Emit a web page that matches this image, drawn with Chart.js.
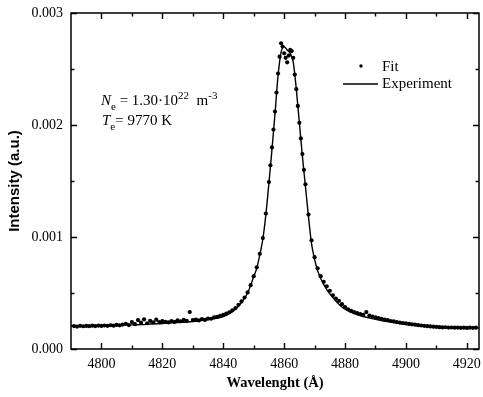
<!DOCTYPE html>
<html>
<head>
<meta charset="utf-8">
<script src="https://cdn.jsdelivr.net/npm/chart.js@4.4.1/dist/chart.umd.min.js"></script>
<style>
  html, body { margin: 0; padding: 0; background: #fff; }
  #wrap { width: 483px; height: 397px; }
</style>
</head>
<body>
<div id="wrap"><canvas id="myChart" width="483" height="397"></canvas></div>
<script>
// intensities are in units of 0.001 a.u.
const fitWavelength = [
  4791, 4792, 4793, 4794, 4795, 4796, 4797, 4798, 4799, 4800,
  4801, 4802, 4803, 4804, 4805, 4806, 4807, 4808, 4809, 4810,
  4811, 4812, 4813, 4814, 4815, 4816, 4817, 4818, 4819, 4820,
  4821, 4822, 4823, 4824, 4825, 4826, 4827, 4828, 4829, 4830,
  4831, 4832, 4833, 4834, 4835, 4836, 4837, 4838, 4839, 4840,
  4841, 4842, 4843, 4844, 4845, 4846, 4847, 4848, 4849, 4850,
  4851, 4852, 4853, 4854, 4855, 4855.5, 4856, 4856.5, 4857, 4857.5,
  4858, 4858.5, 4859, 4859.5, 4860, 4860.5, 4861, 4861.5, 4862, 4862.5,
  4863, 4863.5, 4864, 4864.5, 4865, 4865.5, 4866, 4866.5, 4867, 4868,
  4869, 4870, 4871, 4872, 4873, 4874, 4875, 4876, 4877, 4878,
  4879, 4880, 4881, 4882, 4883, 4884, 4885, 4886, 4887, 4888,
  4889, 4890, 4891, 4892, 4893, 4894, 4895, 4896, 4897, 4898,
  4899, 4900, 4901, 4902, 4903, 4904, 4905, 4906, 4907, 4908,
  4909, 4910, 4911, 4912, 4913, 4914, 4915, 4916, 4917, 4918,
  4919, 4920, 4921, 4922, 4923
];
const fitIntensity = [
  0.205, 0.200, 0.207, 0.203, 0.206, 0.204, 0.208, 0.205, 0.209, 0.206,
  0.210, 0.207, 0.212, 0.208, 0.215, 0.211, 0.218, 0.225, 0.214, 0.240,
  0.222, 0.258, 0.235, 0.265, 0.230, 0.252, 0.238, 0.262, 0.240, 0.248,
  0.243, 0.237, 0.250, 0.242, 0.255, 0.247, 0.260, 0.252, 0.330, 0.258,
  0.262, 0.255, 0.266, 0.260, 0.272, 0.270, 0.282, 0.286, 0.295, 0.305,
  0.315, 0.328, 0.345, 0.365, 0.395, 0.425, 0.460, 0.505, 0.570, 0.650,
  0.730, 0.850, 0.990, 1.210, 1.490, 1.640, 1.800, 1.960, 2.120, 2.290,
  2.460, 2.610, 2.730, 2.700, 2.640, 2.600, 2.560, 2.620, 2.670, 2.660,
  2.600, 2.450, 2.320, 2.170, 2.020, 1.880, 1.740, 1.600, 1.470, 1.200,
  0.970, 0.820, 0.720, 0.650, 0.600, 0.560, 0.520, 0.480, 0.450, 0.430,
  0.400, 0.375, 0.355, 0.340, 0.330, 0.320, 0.312, 0.305, 0.330, 0.298,
  0.290, 0.283, 0.276, 0.270, 0.262, 0.257, 0.250, 0.246, 0.240, 0.236,
  0.232, 0.228, 0.224, 0.220, 0.217, 0.213, 0.210, 0.207, 0.204, 0.202,
  0.199, 0.197, 0.195, 0.193, 0.194, 0.191, 0.192, 0.190, 0.191, 0.189,
  0.190, 0.188, 0.190, 0.189, 0.190
];

const expWavelength = [
  4790, 4795, 4800, 4805, 4810, 4815, 4820, 4825, 4830, 4835,
  4838, 4840, 4842, 4844, 4846, 4848, 4850, 4851, 4852, 4853,
  4854, 4855, 4856, 4857, 4858, 4859, 4860, 4861, 4862, 4863,
  4864, 4865, 4866, 4867, 4868, 4869, 4870, 4871, 4872, 4874,
  4876, 4878, 4880, 4883, 4886, 4890, 4895, 4900, 4905, 4910,
  4915, 4920, 4924
];
const expIntensity = [
  0.205, 0.205, 0.207, 0.210, 0.215, 0.220, 0.228, 0.236, 0.246, 0.262,
  0.276, 0.290, 0.315, 0.355, 0.415, 0.500, 0.645, 0.720, 0.840, 0.980,
  1.200, 1.480, 1.780, 2.100, 2.440, 2.650, 2.700, 2.670, 2.640, 2.560,
  2.320, 2.020, 1.720, 1.450, 1.180, 0.940, 0.800, 0.700, 0.630, 0.530,
  0.460, 0.400, 0.355, 0.315, 0.290, 0.265, 0.240, 0.220, 0.205, 0.195,
  0.191, 0.189, 0.189
];

const xTicks = [4800, 4820, 4840, 4860, 4880, 4900, 4920];
const xMinorTicks = [4810, 4830, 4850, 4870, 4890, 4910];
const yTicks = [0, 1, 2, 3];
const yMinorTicks = [0.5, 1.5, 2.5];
const yTickLabels = ['0.000', '0.001', '0.002', '0.003'];

const serif = '"Liberation Serif", "Times New Roman", serif';

function drawRich(ctx, x, y, parts) {
  parts.forEach(p => {
    ctx.font = p.font;
    ctx.fillText(p.t, x, y + (p.dy || 0));
    x += ctx.measureText(p.t).width;
  });
}

const framePlugin = {
  id: 'frame',
  afterDatasetsDraw(chart) {
    const {ctx, chartArea: a, scales: {x, y}} = chart;
    ctx.save();
    ctx.strokeStyle = '#000';
    ctx.lineWidth = 1.5;
    ctx.strokeRect(a.left, a.top, a.right - a.left, a.bottom - a.top);

    ctx.lineWidth = 1.4;
    ctx.beginPath();
    xTicks.forEach(v => {
      const px = Math.round(x.getPixelForValue(v)) + 0.5;
      ctx.moveTo(px, a.bottom); ctx.lineTo(px, a.bottom - 6);
      ctx.moveTo(px, a.top); ctx.lineTo(px, a.top + 6);
    });
    xMinorTicks.forEach(v => {
      const px = Math.round(x.getPixelForValue(v)) + 0.5;
      ctx.moveTo(px, a.bottom); ctx.lineTo(px, a.bottom - 3.5);
      ctx.moveTo(px, a.top); ctx.lineTo(px, a.top + 3.5);
    });
    yTicks.forEach(v => {
      const py = Math.round(y.getPixelForValue(v)) + 0.5;
      ctx.moveTo(a.left, py); ctx.lineTo(a.left + 6, py);
      ctx.moveTo(a.right, py); ctx.lineTo(a.right - 6, py);
    });
    yMinorTicks.forEach(v => {
      const py = Math.round(y.getPixelForValue(v)) + 0.5;
      ctx.moveTo(a.left, py); ctx.lineTo(a.left + 3.5, py);
      ctx.moveTo(a.right, py); ctx.lineTo(a.right - 3.5, py);
    });
    ctx.stroke();
    ctx.restore();
  },
  afterDraw(chart) {
    const ctx = chart.ctx;
    ctx.save();
    ctx.fillStyle = '#000';
    ctx.strokeStyle = '#000';
    ctx.textBaseline = 'alphabetic';

    // legend
    ctx.beginPath();
    ctx.arc(361, 66, 1.7, 0, Math.PI * 2);
    ctx.fill();
    ctx.font = '15px ' + serif;
    ctx.fillText('Fit', 382, 71);
    ctx.lineWidth = 1.3;
    ctx.beginPath();
    ctx.moveTo(343, 84); ctx.lineTo(378, 84);
    ctx.stroke();
    ctx.fillText('Experiment', 382, 88);

    // plasma parameters
    const reg = '15px ' + serif, ita = 'italic 15px ' + serif, sub = '11px ' + serif;
    drawRich(ctx, 101, 105, [
      {t: 'N', font: ita},
      {t: 'e', font: sub, dy: 5},
      {t: ' = 1.30\u00b710', font: reg},
      {t: '22', font: sub, dy: -6},
      {t: '  m', font: reg},
      {t: '-3', font: sub, dy: -6}
    ]);
    drawRich(ctx, 102, 125, [
      {t: 'T', font: ita},
      {t: 'e', font: sub, dy: 5},
      {t: '= 9770 K', font: reg}
    ]);
    ctx.restore();
  }
};

const ctx = document.getElementById('myChart');
const myChart = new Chart(ctx, {
  type: 'scatter',
  data: {
    datasets: [
      {
        label: 'Fit',
        data: fitWavelength.map((w, i) => ({x: w, y: fitIntensity[i]})),
        showLine: false,
        pointRadius: 2.1,
        pointBackgroundColor: '#000',
        pointBorderWidth: 0
      },
      {
        label: 'Experiment',
        data: expWavelength.map((w, i) => ({x: w, y: expIntensity[i]})),
        showLine: true,
        borderColor: '#000',
        borderWidth: 1.4,
        pointRadius: 0,
        cubicInterpolationMode: 'monotone'
      }
    ]
  },
  options: {
    responsive: false,
    animation: false,
    devicePixelRatio: 1,
    layout: { padding: { top: 13, right: 0, left: 0, bottom: 0 } },
    plugins: { legend: { display: false }, tooltip: { enabled: false } },
    scales: {
      x: {
        type: 'linear',
        min: 4790,
        max: 4924,
        grid: { display: false, drawTicks: false },
        border: { display: false },
        afterBuildTicks: s => { s.ticks = xTicks.map(v => ({value: v})); },
        afterFit: s => { s.height = 48; s.paddingLeft = 0; s.paddingRight = 0; },
        ticks: {
          color: '#000',
          padding: 7,
          maxRotation: 0,
          font: { family: serif, size: 14 },
          callback: v => String(v)
        },
        title: {
          display: true,
          text: 'Wavelenght (\u00c5)',
          color: '#000',
          font: { family: serif, size: 14.5, weight: 'bold' },
          padding: { top: 0, bottom: 5 }
        }
      },
      y: {
        min: 0,
        max: 3,
        grid: { display: false, drawTicks: false },
        border: { display: false },
        afterBuildTicks: s => { s.ticks = yTicks.map(v => ({value: v})); },
        afterFit: s => { s.width = 71; s.paddingTop = 0; s.paddingBottom = 0; },
        ticks: {
          color: '#000',
          padding: 8,
          font: { family: serif, size: 14 },
          callback: (v, i) => yTickLabels[i]
        },
        title: {
          display: true,
          text: 'Intensity (a.u.)',
          color: '#000',
          font: { family: '"Liberation Sans", Arial, sans-serif', size: 15, weight: 'bold' },
          padding: { top: 6, bottom: 0 }
        }
      }
    }
  },
  plugins: [framePlugin]
});
</script>
</body>
</html>
